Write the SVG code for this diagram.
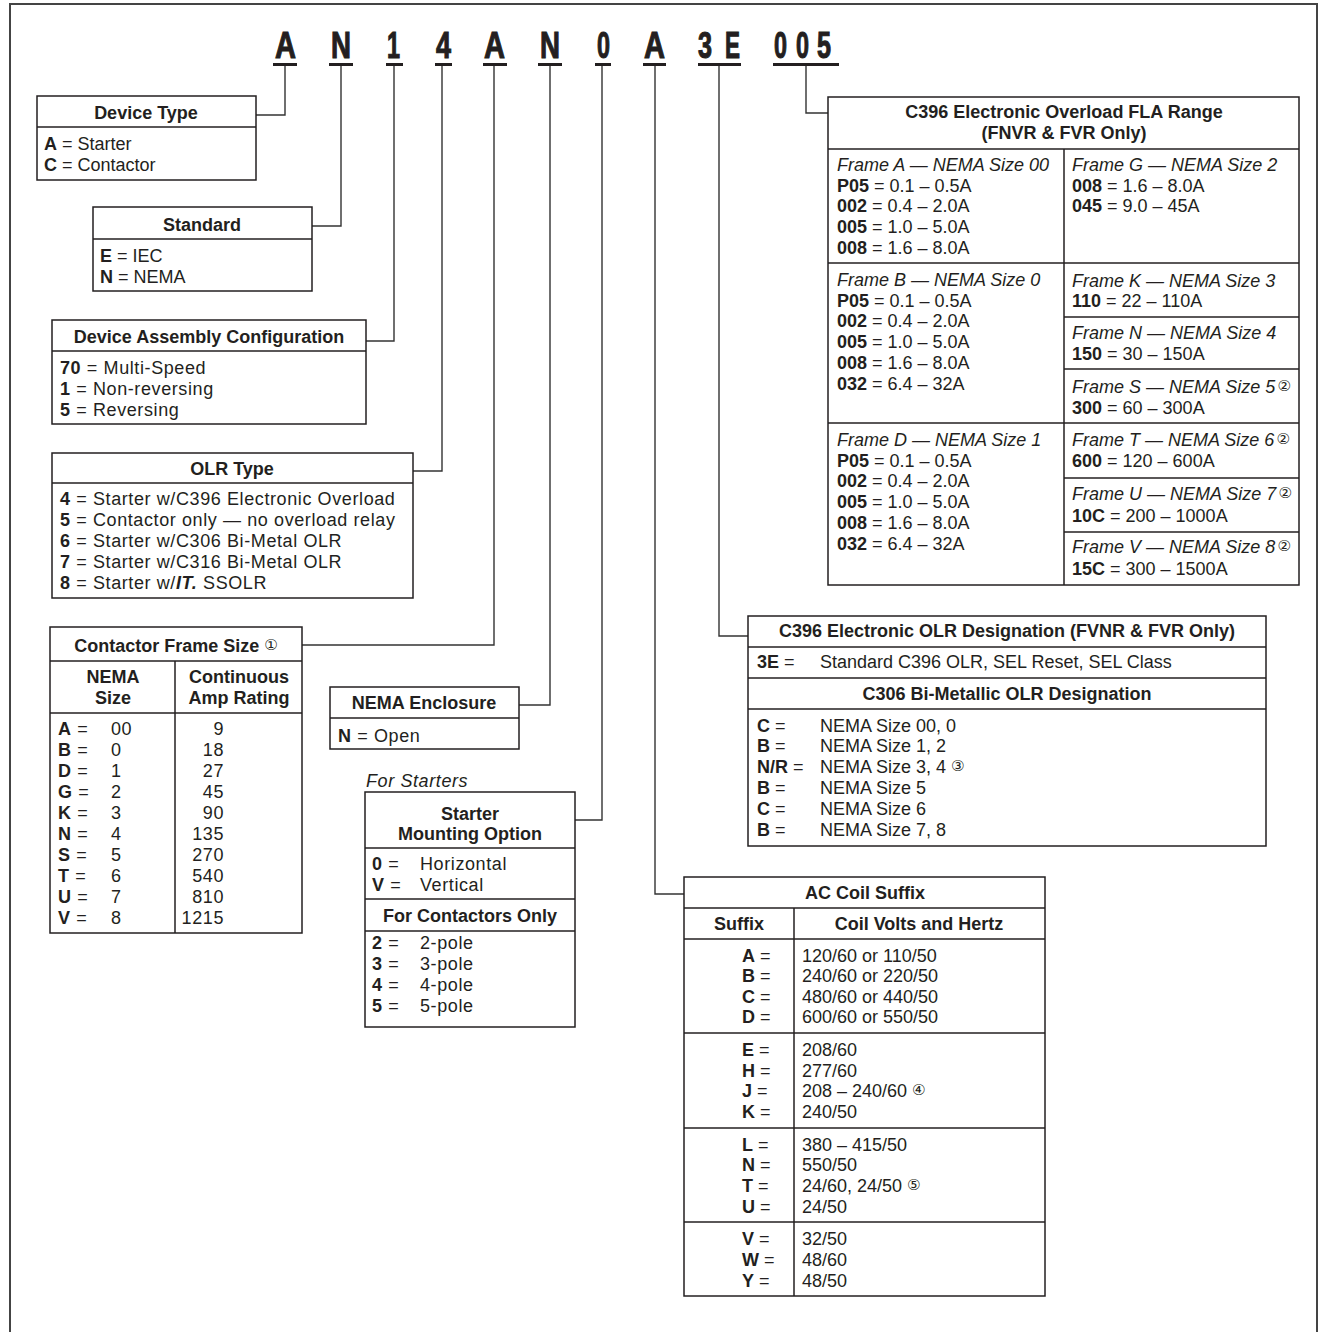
<svg xmlns="http://www.w3.org/2000/svg" width="1327" height="1332" viewBox="0 0 1327 1332">
<style>
text{font-family:"Liberation Sans",Arial,sans-serif;font-size:18px;fill:#231f20}
.b{font-weight:bold}
.i{font-style:italic}
.c{text-anchor:middle}
.e{text-anchor:end}
.w{letter-spacing:0.6px}
.hd{font-size:37px;font-weight:bold;stroke:#231f20;stroke-width:1.1px}
.n{font-family:"DejaVu Sans",sans-serif;font-size:15px;font-weight:normal;font-style:normal}
.box{fill:#fff;stroke:#231f20;stroke-width:1.5}
.ln{fill:none;stroke:#231f20;stroke-width:1.5}
.cn{fill:none;stroke:#333;stroke-width:1.4}
.bar{fill:#231f20}
</style>
<rect width="1327" height="1332" fill="#fff"/>
<path d="M10,1332 V4 H1317 V1332" fill="none" stroke="#444" stroke-width="2"/>

<g id="code">
<text class="hd" x="275" y="58" textLength="21" lengthAdjust="spacingAndGlyphs">A</text>
<text class="hd" x="331" y="58" textLength="20" lengthAdjust="spacingAndGlyphs">N</text>
<text class="hd" x="387" y="58" textLength="13" lengthAdjust="spacingAndGlyphs">1</text>
<text class="hd" x="436" y="58" textLength="15" lengthAdjust="spacingAndGlyphs">4</text>
<text class="hd" x="484" y="58" textLength="21" lengthAdjust="spacingAndGlyphs">A</text>
<text class="hd" x="540" y="58" textLength="20" lengthAdjust="spacingAndGlyphs">N</text>
<text class="hd" x="597" y="58" textLength="13" lengthAdjust="spacingAndGlyphs">0</text>
<text class="hd" x="644" y="58" textLength="21" lengthAdjust="spacingAndGlyphs">A</text>
<text class="hd" x="698" y="58" textLength="14" lengthAdjust="spacingAndGlyphs">3</text>
<text class="hd" x="725" y="58" textLength="15" lengthAdjust="spacingAndGlyphs">E</text>
<text class="hd" x="774" y="58" textLength="13" lengthAdjust="spacingAndGlyphs">0</text>
<text class="hd" x="796" y="58" textLength="13" lengthAdjust="spacingAndGlyphs">0</text>
<text class="hd" x="817" y="58" textLength="14" lengthAdjust="spacingAndGlyphs">5</text>
<rect class="bar" x="273" y="63" width="24" height="3"/>
<rect class="bar" x="329" y="63" width="24" height="3"/>
<rect class="bar" x="386" y="63" width="17" height="3"/>
<rect class="bar" x="435" y="63" width="17" height="3"/>
<rect class="bar" x="483" y="63" width="24" height="3"/>
<rect class="bar" x="538" y="63" width="24" height="3"/>
<rect class="bar" x="595" y="63" width="16" height="3"/>
<rect class="bar" x="643" y="63" width="23" height="3"/>
<rect class="bar" x="698" y="63" width="43" height="3"/>
<rect class="bar" x="773" y="63" width="66" height="3"/>
</g>

<g id="connectors">
<path class="cn" d="M285,66 V115 H256"/>
<path class="cn" d="M341,66 V226 H312"/>
<path class="cn" d="M394,66 V341 H366"/>
<path class="cn" d="M442,66 V471 H413"/>
<path class="cn" d="M494,66 V645 H302"/>
<path class="cn" d="M550,66 V705 H519"/>
<path class="cn" d="M602,66 V820 H575"/>
<path class="cn" d="M655,66 V894 H684"/>
<path class="cn" d="M719,66 V636 H748"/>
<path class="cn" d="M806,66 V113 H828"/>
</g>

<g id="device-type">
<rect class="box" x="37" y="96" width="219" height="84"/>
<line class="ln" x1="37" y1="127" x2="256" y2="127"/>
<text class="b c" x="146" y="119">Device Type</text>
<text x="44" y="150"><tspan class="b">A</tspan> = Starter</text>
<text x="44" y="171"><tspan class="b">C</tspan> = Contactor</text>
</g>

<g id="standard">
<rect class="box" x="93" y="207" width="219" height="84"/>
<line class="ln" x1="93" y1="239" x2="312" y2="239"/>
<text class="b c" x="202" y="231">Standard</text>
<text x="100" y="262"><tspan class="b">E</tspan> = IEC</text>
<text x="100" y="283"><tspan class="b">N</tspan> = NEMA</text>
</g>

<g id="device-assembly">
<rect class="box" x="52" y="320" width="314" height="104"/>
<line class="ln" x1="52" y1="351" x2="366" y2="351"/>
<text class="b c" x="209" y="343">Device Assembly Configuration</text>
<text class="w" x="60" y="374"><tspan class="b">70</tspan> = Multi-Speed</text>
<text class="w" x="60" y="395"><tspan class="b">1</tspan> = Non-reversing</text>
<text class="w" x="60" y="416"><tspan class="b">5</tspan> = Reversing</text>
</g>

<g id="olr-type">
<rect class="box" x="52" y="453" width="361" height="145"/>
<line class="ln" x1="52" y1="483" x2="413" y2="483"/>
<text class="b c" x="232" y="475">OLR Type</text>
<text class="w" x="60" y="505"><tspan class="b">4</tspan> = Starter w/C396 Electronic Overload</text>
<text class="w" x="60" y="526"><tspan class="b">5</tspan> = Contactor only — no overload relay</text>
<text class="w" x="60" y="547"><tspan class="b">6</tspan> = Starter w/C306 Bi-Metal OLR</text>
<text class="w" x="60" y="568"><tspan class="b">7</tspan> = Starter w/C316 Bi-Metal OLR</text>
<text class="w" x="60" y="589"><tspan class="b">8</tspan> = Starter w/<tspan class="b i">IT.</tspan> SSOLR</text>
</g>

<g id="contactor-frame-size">
<rect class="box" x="50" y="627" width="252" height="306"/>
<line class="ln" x1="50" y1="661" x2="302" y2="661"/>
<line class="ln" x1="50" y1="713" x2="302" y2="713"/>
<line class="ln" x1="175" y1="661" x2="175" y2="933"/>
<text class="b c" x="176" y="652">Contactor Frame Size <tspan class="n" dy="-2">①</tspan></text>
<text class="b c" x="113" y="683">NEMA</text>
<text class="b c" x="113" y="704">Size</text>
<text class="b c" x="239" y="683">Continuous</text>
<text class="b c" x="239" y="704">Amp Rating</text>
<g class="w">
<text x="58" y="735"><tspan class="b">A</tspan> =</text><text x="111" y="735">00</text><text class="e" x="224" y="735">9</text>
<text x="58" y="756"><tspan class="b">B</tspan> =</text><text x="111" y="756">0</text><text class="e" x="224" y="756">18</text>
<text x="58" y="777"><tspan class="b">D</tspan> =</text><text x="111" y="777">1</text><text class="e" x="224" y="777">27</text>
<text x="58" y="798"><tspan class="b">G</tspan> =</text><text x="111" y="798">2</text><text class="e" x="224" y="798">45</text>
<text x="58" y="819"><tspan class="b">K</tspan> =</text><text x="111" y="819">3</text><text class="e" x="224" y="819">90</text>
<text x="58" y="840"><tspan class="b">N</tspan> =</text><text x="111" y="840">4</text><text class="e" x="224" y="840">135</text>
<text x="58" y="861"><tspan class="b">S</tspan> =</text><text x="111" y="861">5</text><text class="e" x="224" y="861">270</text>
<text x="58" y="882"><tspan class="b">T</tspan> =</text><text x="111" y="882">6</text><text class="e" x="224" y="882">540</text>
<text x="58" y="903"><tspan class="b">U</tspan> =</text><text x="111" y="903">7</text><text class="e" x="224" y="903">810</text>
<text x="58" y="924"><tspan class="b">V</tspan> =</text><text x="111" y="924">8</text><text class="e" x="224" y="924">1215</text>
</g>
</g>

<g id="nema-enclosure">
<rect class="box" x="330" y="687" width="189" height="62"/>
<line class="ln" x1="330" y1="718" x2="519" y2="718"/>
<text class="b c" x="424" y="709">NEMA Enclosure</text>
<text class="w" x="338" y="742"><tspan class="b">N</tspan> = Open</text>
</g>

<g id="starter-mounting">
<text class="i w" x="366" y="787">For Starters</text>
<rect class="box" x="365" y="792" width="210" height="235"/>
<line class="ln" x1="365" y1="848" x2="575" y2="848"/>
<line class="ln" x1="365" y1="899" x2="575" y2="899"/>
<line class="ln" x1="365" y1="931" x2="575" y2="931"/>
<text class="b c" x="470" y="820">Starter</text>
<text class="b c" x="470" y="840">Mounting Option</text>
<g class="w">
<text x="372" y="870"><tspan class="b">0</tspan> =</text><text x="420" y="870">Horizontal</text>
<text x="372" y="891"><tspan class="b">V</tspan> =</text><text x="420" y="891">Vertical</text>
</g>
<text class="b c" x="470" y="922">For Contactors Only</text>
<g class="w">
<text x="372" y="949"><tspan class="b">2</tspan> =</text><text x="420" y="949">2-pole</text>
<text x="372" y="970"><tspan class="b">3</tspan> =</text><text x="420" y="970">3-pole</text>
<text x="372" y="991"><tspan class="b">4</tspan> =</text><text x="420" y="991">4-pole</text>
<text x="372" y="1012"><tspan class="b">5</tspan> =</text><text x="420" y="1012">5-pole</text>
</g>
</g>

<g id="fla-range">
<rect class="box" x="828" y="97" width="471" height="488"/>
<line class="ln" x1="828" y1="149" x2="1299" y2="149"/>
<line class="ln" x1="1064" y1="149" x2="1064" y2="585"/>
<line class="ln" x1="828" y1="263" x2="1299" y2="263"/>
<line class="ln" x1="828" y1="423" x2="1299" y2="423"/>
<line class="ln" x1="1064" y1="317" x2="1299" y2="317"/>
<line class="ln" x1="1064" y1="369" x2="1299" y2="369"/>
<line class="ln" x1="1064" y1="478" x2="1299" y2="478"/>
<line class="ln" x1="1064" y1="532" x2="1299" y2="532"/>
<text class="b c" x="1064" y="118">C396 Electronic Overload FLA Range</text>
<text class="b c" x="1064" y="139">(FNVR &amp; FVR Only)</text>
<text class="i" x="837" y="171">Frame A — NEMA Size 00</text>
<text x="837" y="192"><tspan class="b">P05</tspan> = 0.1 – 0.5A</text>
<text x="837" y="212"><tspan class="b">002</tspan> = 0.4 – 2.0A</text>
<text x="837" y="233"><tspan class="b">005</tspan> = 1.0 – 5.0A</text>
<text x="837" y="254"><tspan class="b">008</tspan> = 1.6 – 8.0A</text>
<text class="i" x="837" y="286">Frame B — NEMA Size 0</text>
<text x="837" y="307"><tspan class="b">P05</tspan> = 0.1 – 0.5A</text>
<text x="837" y="327"><tspan class="b">002</tspan> = 0.4 – 2.0A</text>
<text x="837" y="348"><tspan class="b">005</tspan> = 1.0 – 5.0A</text>
<text x="837" y="369"><tspan class="b">008</tspan> = 1.6 – 8.0A</text>
<text x="837" y="390"><tspan class="b">032</tspan> = 6.4 – 32A</text>
<text class="i" x="837" y="446">Frame D — NEMA Size 1</text>
<text x="837" y="467"><tspan class="b">P05</tspan> = 0.1 – 0.5A</text>
<text x="837" y="487"><tspan class="b">002</tspan> = 0.4 – 2.0A</text>
<text x="837" y="508"><tspan class="b">005</tspan> = 1.0 – 5.0A</text>
<text x="837" y="529"><tspan class="b">008</tspan> = 1.6 – 8.0A</text>
<text x="837" y="550"><tspan class="b">032</tspan> = 6.4 – 32A</text>
<text class="i" x="1072" y="171">Frame G — NEMA Size 2</text>
<text x="1072" y="192"><tspan class="b">008</tspan> = 1.6 – 8.0A</text>
<text x="1072" y="212"><tspan class="b">045</tspan> = 9.0 – 45A</text>
<text class="i" x="1072" y="287">Frame K — NEMA Size 3</text>
<text x="1072" y="307"><tspan class="b">110</tspan> = 22 – 110A</text>
<text class="i" x="1072" y="339">Frame N — NEMA Size 4</text>
<text x="1072" y="360"><tspan class="b">150</tspan> = 30 – 150A</text>
<text class="i" x="1072" y="393">Frame S — NEMA Size 5<tspan class="n" dx="2" dy="-2">②</tspan></text>
<text x="1072" y="414"><tspan class="b">300</tspan> = 60 – 300A</text>
<text class="i" x="1072" y="446">Frame T — NEMA Size 6<tspan class="n" dx="2" dy="-2">②</tspan></text>
<text x="1072" y="467"><tspan class="b">600</tspan> = 120 – 600A</text>
<text class="i" x="1072" y="500">Frame U — NEMA Size 7<tspan class="n" dx="2" dy="-2">②</tspan></text>
<text x="1072" y="522"><tspan class="b">10C</tspan> = 200 – 1000A</text>
<text class="i" x="1072" y="553">Frame V — NEMA Size 8<tspan class="n" dx="2" dy="-2">②</tspan></text>
<text x="1072" y="575"><tspan class="b">15C</tspan> = 300 – 1500A</text>
</g>

<g id="olr-designation">
<rect class="box" x="748" y="616" width="518" height="230"/>
<line class="ln" x1="748" y1="647" x2="1266" y2="647"/>
<line class="ln" x1="748" y1="678" x2="1266" y2="678"/>
<line class="ln" x1="748" y1="709" x2="1266" y2="709"/>
<text class="b c" x="1007" y="637">C396 Electronic OLR Designation (FVNR &amp; FVR Only)</text>
<text x="757" y="668"><tspan class="b">3E</tspan> =</text><text x="820" y="668">Standard C396 OLR, SEL Reset, SEL Class</text>
<text class="b c" x="1007" y="700">C306 Bi-Metallic OLR Designation</text>
<text x="757" y="732"><tspan class="b">C</tspan> =</text><text x="820" y="732">NEMA Size 00, 0</text>
<text x="757" y="752"><tspan class="b">B</tspan> =</text><text x="820" y="752">NEMA Size 1, 2</text>
<text x="757" y="773"><tspan class="b">N/R</tspan> =</text><text x="820" y="773">NEMA Size 3, 4 <tspan class="n" dy="-2">③</tspan></text>
<text x="757" y="794"><tspan class="b">B</tspan> =</text><text x="820" y="794">NEMA Size 5</text>
<text x="757" y="815"><tspan class="b">C</tspan> =</text><text x="820" y="815">NEMA Size 6</text>
<text x="757" y="836"><tspan class="b">B</tspan> =</text><text x="820" y="836">NEMA Size 7, 8</text>
</g>

<g id="ac-coil-suffix">
<rect class="box" x="684" y="877" width="361" height="419"/>
<line class="ln" x1="684" y1="908" x2="1045" y2="908"/>
<line class="ln" x1="684" y1="939" x2="1045" y2="939"/>
<line class="ln" x1="684" y1="1033" x2="1045" y2="1033"/>
<line class="ln" x1="684" y1="1128" x2="1045" y2="1128"/>
<line class="ln" x1="684" y1="1222" x2="1045" y2="1222"/>
<line class="ln" x1="794" y1="908" x2="794" y2="1296"/>
<text class="b c" x="865" y="899">AC Coil Suffix</text>
<text class="b c" x="739" y="930">Suffix</text>
<text class="b c" x="919" y="930">Coil Volts and Hertz</text>
<text x="742" y="962"><tspan class="b">A</tspan> =</text><text x="802" y="962">120/60 or 110/50</text>
<text x="742" y="982"><tspan class="b">B</tspan> =</text><text x="802" y="982">240/60 or 220/50</text>
<text x="742" y="1003"><tspan class="b">C</tspan> =</text><text x="802" y="1003">480/60 or 440/50</text>
<text x="742" y="1023"><tspan class="b">D</tspan> =</text><text x="802" y="1023">600/60 or 550/50</text>
<text x="742" y="1056"><tspan class="b">E</tspan> =</text><text x="802" y="1056">208/60</text>
<text x="742" y="1077"><tspan class="b">H</tspan> =</text><text x="802" y="1077">277/60</text>
<text x="742" y="1097"><tspan class="b">J</tspan> =</text><text x="802" y="1097">208 – 240/60 <tspan class="n" dy="-2">④</tspan></text>
<text x="742" y="1118"><tspan class="b">K</tspan> =</text><text x="802" y="1118">240/50</text>
<text x="742" y="1151"><tspan class="b">L</tspan> =</text><text x="802" y="1151">380 – 415/50</text>
<text x="742" y="1171"><tspan class="b">N</tspan> =</text><text x="802" y="1171">550/50</text>
<text x="742" y="1192"><tspan class="b">T</tspan> =</text><text x="802" y="1192">24/60, 24/50 <tspan class="n" dy="-2">⑤</tspan></text>
<text x="742" y="1213"><tspan class="b">U</tspan> =</text><text x="802" y="1213">24/50</text>
<text x="742" y="1245"><tspan class="b">V</tspan> =</text><text x="802" y="1245">32/50</text>
<text x="742" y="1266"><tspan class="b">W</tspan> =</text><text x="802" y="1266">48/60</text>
<text x="742" y="1287"><tspan class="b">Y</tspan> =</text><text x="802" y="1287">48/50</text>
</g>
</svg>
